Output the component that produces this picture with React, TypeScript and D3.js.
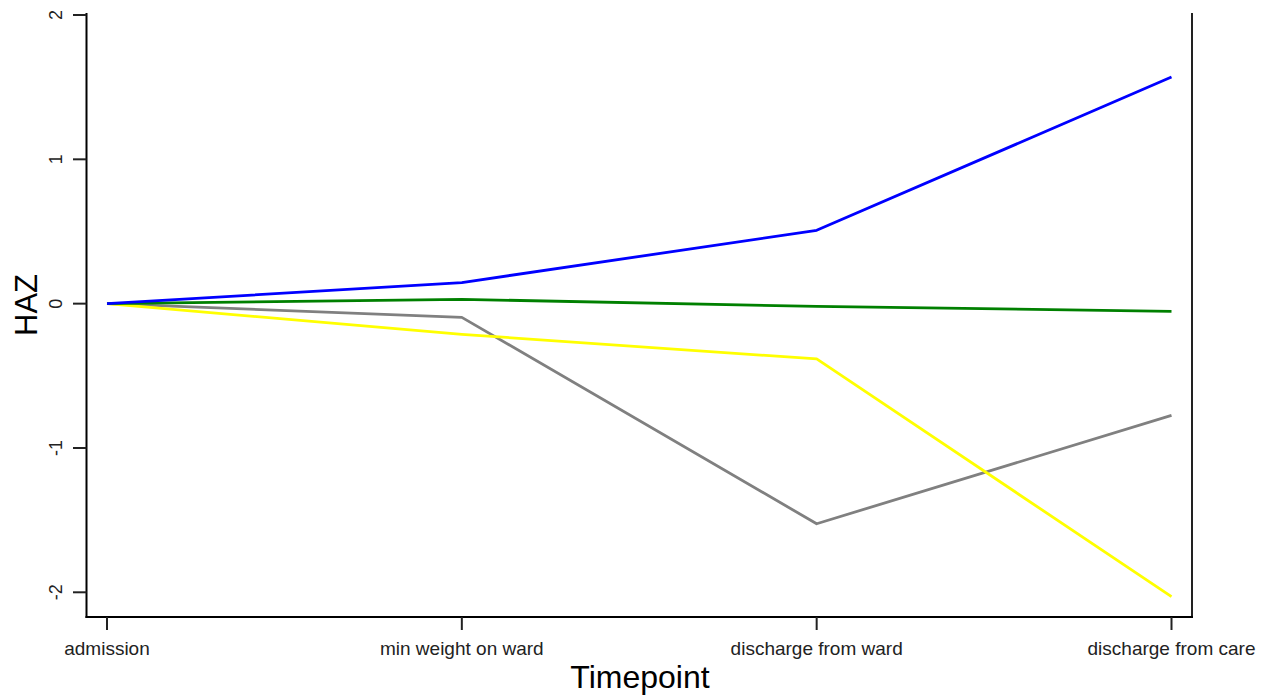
import React from "react";
import * as d3 from "d3";

const categories = ["admission", "min weight on ward", "discharge from ward", "discharge from care"];
const blueSeries = [0, 0.146, 0.508, 1.57];
const greenSeries = [0, 0.03, -0.019, -0.053];
const graySeries = [0, -0.095, -1.525, -0.774];
const yellowSeries = [0, -0.213, -0.383, -2.03];
const yTicks = [-2, -1, 0, 1, 2];

const series = [
  { name: "gray", color: "#808080", values: graySeries },
  { name: "yellow", color: "#FFFF00", values: yellowSeries },
  { name: "green", color: "#008000", values: greenSeries },
  { name: "blue", color: "#0000FF", values: blueSeries },
];

const W = 1261;
const H = 696;
const left = 86.5;
const right = 1192;
const top = 13;
const bottom = 617;

export default function App() {
  const x = d3.scalePoint<string>().domain(categories).range([107, 1171.5]);
  const y = d3.scaleLinear().domain([-2, 2]).range([592.3, 15]);
  const line = d3
    .line<number>()
    .x((_, i) => x(categories[i]) as number)
    .y((d) => y(d));
  const font = "Arial, 'Liberation Sans', Helvetica, sans-serif";
  return (
    <svg
      width={W}
      height={H}
      style={{ position: "absolute", left: 0, top: 0, display: "block", background: "#fff" }}
      fontFamily={font}
    >
      {series.map((s) => (
        <path key={s.name} d={line(s.values) || ""} fill="none" stroke={s.color} strokeWidth={2.8} strokeLinejoin="round" />
      ))}
      {/* axes */}
      <line x1={left} x2={left} y1={top} y2={bottom + 1} stroke="#000" strokeWidth={2} />
      <line x1={right} x2={right} y1={top} y2={bottom + 1} stroke="#222" strokeWidth={2} />
      <line x1={left - 1} x2={right + 1} y1={bottom} y2={bottom} stroke="#000" strokeWidth={2} />
      {yTicks.map((t) => (
        <g key={t}>
          <line x1={73} x2={left} y1={y(t)} y2={y(t)} stroke="#222" strokeWidth={2} />
          <text
            transform={`translate(62,${y(t)}) rotate(-90)`}
            textAnchor="middle"
            fontSize={18}
            fill="#222"
          >
            {t}
          </text>
        </g>
      ))}
      {categories.map((c) => (
        <g key={c}>
          <line x1={x(c)} x2={x(c)} y1={bottom} y2={630} stroke="#222" strokeWidth={2} />
          <text x={x(c)} y={655} textAnchor="middle" fontSize={19} fill="#222">
            {c}
          </text>
        </g>
      ))}
      <text transform={`translate(37,305) rotate(-90)`} textAnchor="middle" fontSize={31} fill="#000">
        HAZ
      </text>
      <text x={640} y={688} textAnchor="middle" fontSize={32} fill="#000">
        Timepoint
      </text>
    </svg>
  );
}
